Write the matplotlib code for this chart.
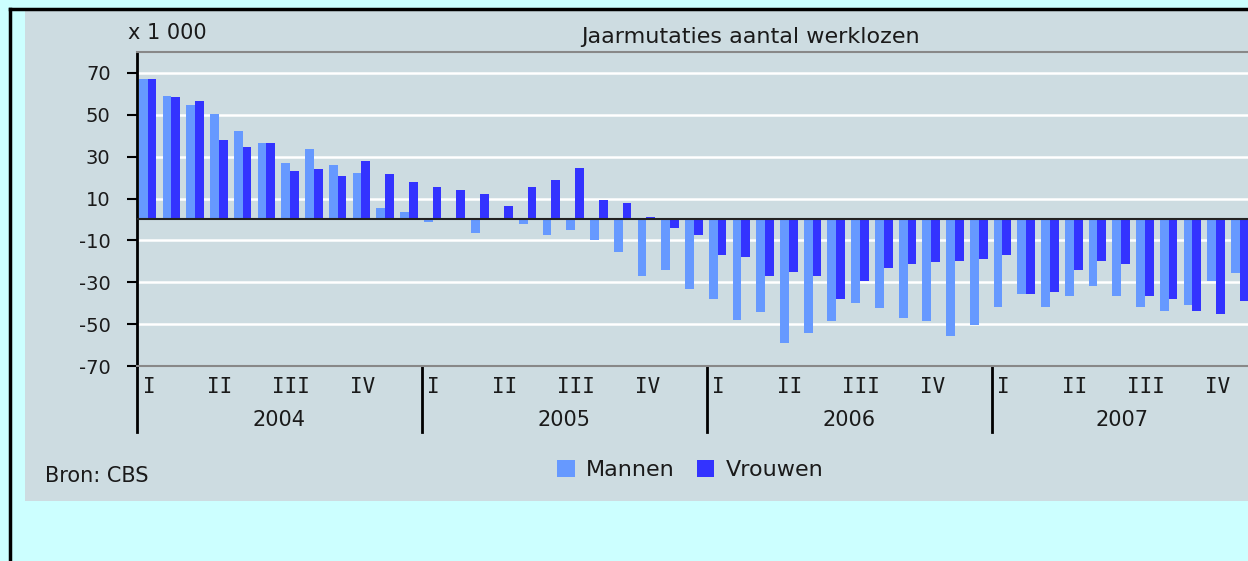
import numpy as np
import matplotlib.pyplot as plt
from matplotlib.patches import Rectangle
from matplotlib.lines import Line2D

W, H = 1248, 561

# data (x 1 000), per maand, jan 2004 - nov 2007
mannen = [67.0, 59.2, 54.9, 50.5, 42.5, 36.5, 26.8, 33.8, 25.8, 22.3, 5.7, 3.8,
          -1.3, -0.3, -6.4, -0.3, -2.1, -7.3, -4.8, -9.9, -15.4, -26.8, -24.2, -33.0,
          -38.1, -47.8, -44.4, -59.2, -54.0, -48.7, -40.0, -42.5, -47.0, -48.7, -55.7, -50.5,
          -41.9, -35.7, -41.9, -36.5, -32.0, -36.5, -41.9, -43.5, -40.9, -29.3, -25.8]
vrouwen = [67.0, 58.3, 56.7, 38.2, 34.6, 36.5, 23.2, 24.0, 20.7, 27.7, 21.5, 17.8,
           15.3, 14.3, 12.4, 6.5, 15.3, 18.8, 24.8, 9.1, 8.1, 1.3, -4.0, -7.5,
           -17.0, -18.0, -26.8, -25.0, -26.8, -38.1, -29.3, -23.2, -21.5, -20.5, -19.7, -18.9,
           -17.0, -35.7, -34.7, -24.2, -19.7, -21.5, -36.5, -38.2, -43.5, -45.2, -39.0]
jaren = ["2004", "2005", "2006", "2007"]
kwartalen = ["I", "II", "III", "IV"]
yticks = [-70, -50, -30, -10, 10, 30, 50, 70]

n = len(mannen)
x = np.arange(n)
tekst = '#1a1a1a'

plt.rcParams['font.family'] = ['DejaVu Sans']
fig = plt.figure(figsize=(W / 100, H / 100), dpi=100)
fig.patch.set_facecolor('#ccffff')

# grijs paneel en zwarte rand
fig.add_artist(Rectangle((25 / W, 1 - 501 / H), 1 - 25 / W, (501 - 11) / H,
                         transform=fig.transFigure, facecolor='#cddce1',
                         edgecolor='none', zorder=0))
fig.add_artist(Line2D([10 / W, 1], [1 - 8.5 / H, 1 - 8.5 / H], color='black', lw=2.5,
                      transform=fig.transFigure))
fig.add_artist(Line2D([10 / W, 10 / W], [0, 1 - 8.5 / H], color='black', lw=2.5,
                      transform=fig.transFigure))

ax = fig.add_axes([137 / W, 1 - 366 / H, (1253 - 137) / W, (366 - 52) / H])
ax.set_facecolor('#cddce1')

b1 = ax.bar(x + 0.08, mannen, width=0.37, align='edge', color='#6699ff',
            label='Mannen', zorder=2)
b2 = ax.bar(x + 0.45, vrouwen, width=0.37, align='edge', color='#3333ff',
            label='Vrouwen', zorder=2)
ax.axhline(0, color='#222222', lw=1.5, zorder=3)

ax.set_xlim(0, n)
ax.set_ylim(-70, 80)
ax.set_yticks(yticks)
ax.set_yticklabels([str(v) for v in yticks], fontsize=14, color=tekst)
ax.yaxis.grid(True, color='white', lw=1.8, zorder=1)
ax.set_axisbelow(True)
ax.tick_params(axis='y', direction='out', length=7, width=1.5, pad=12)
ax.set_xticks([])
for s in ['top', 'bottom']:
    ax.spines[s].set_color('#888888')
    ax.spines[s].set_linewidth(1.5)
ax.spines['right'].set_visible(False)
ax.spines['left'].set_linewidth(2)

# kwartaal- en jaarlabels
tr = ax.get_xaxis_transform()
for j, jaar in enumerate(jaren):
    start = 12 * j
    eind = min(start + 12, n)
    for q, kw in enumerate(kwartalen):
        m = start + 3 * q
        if m < n:
            ax.text(m + 0.5, -0.067, kw, transform=tr, ha='center', va='center',
                    fontsize=15, color=tekst, family=['DejaVu Sans Mono'])
    ax.text((start + eind) / 2, -0.172, jaar, transform=tr, ha='center',
            va='center', fontsize=15, color=tekst)
    ax.plot([start, start], [0, -0.21], transform=tr, color='black', lw=2,
            clip_on=False)

fig.text(128 / W, 1 - 33 / H, "x 1 000", ha='left', va='center', fontsize=15,
         color=tekst)
fig.text(750 / W, 1 - 37 / H, "Jaarmutaties aantal werklozen", ha='center',
         va='center', fontsize=16, color=tekst)
fig.text(45 / W, 1 - 476 / H, "Bron: CBS", ha='left', va='center', fontsize=15,
         color=tekst)

leg = fig.legend(handles=[b1, b2], loc='center', bbox_to_anchor=(690 / W, 1 - 470 / H),
                 ncol=2, frameon=False, fontsize=16, handlelength=0.8,
                 handleheight=0.8, handletextpad=0.5, columnspacing=1.0)
for t in leg.get_texts():
    t.set_color(tekst)

fig.savefig('out.png', dpi=100, facecolor=fig.get_facecolor())
